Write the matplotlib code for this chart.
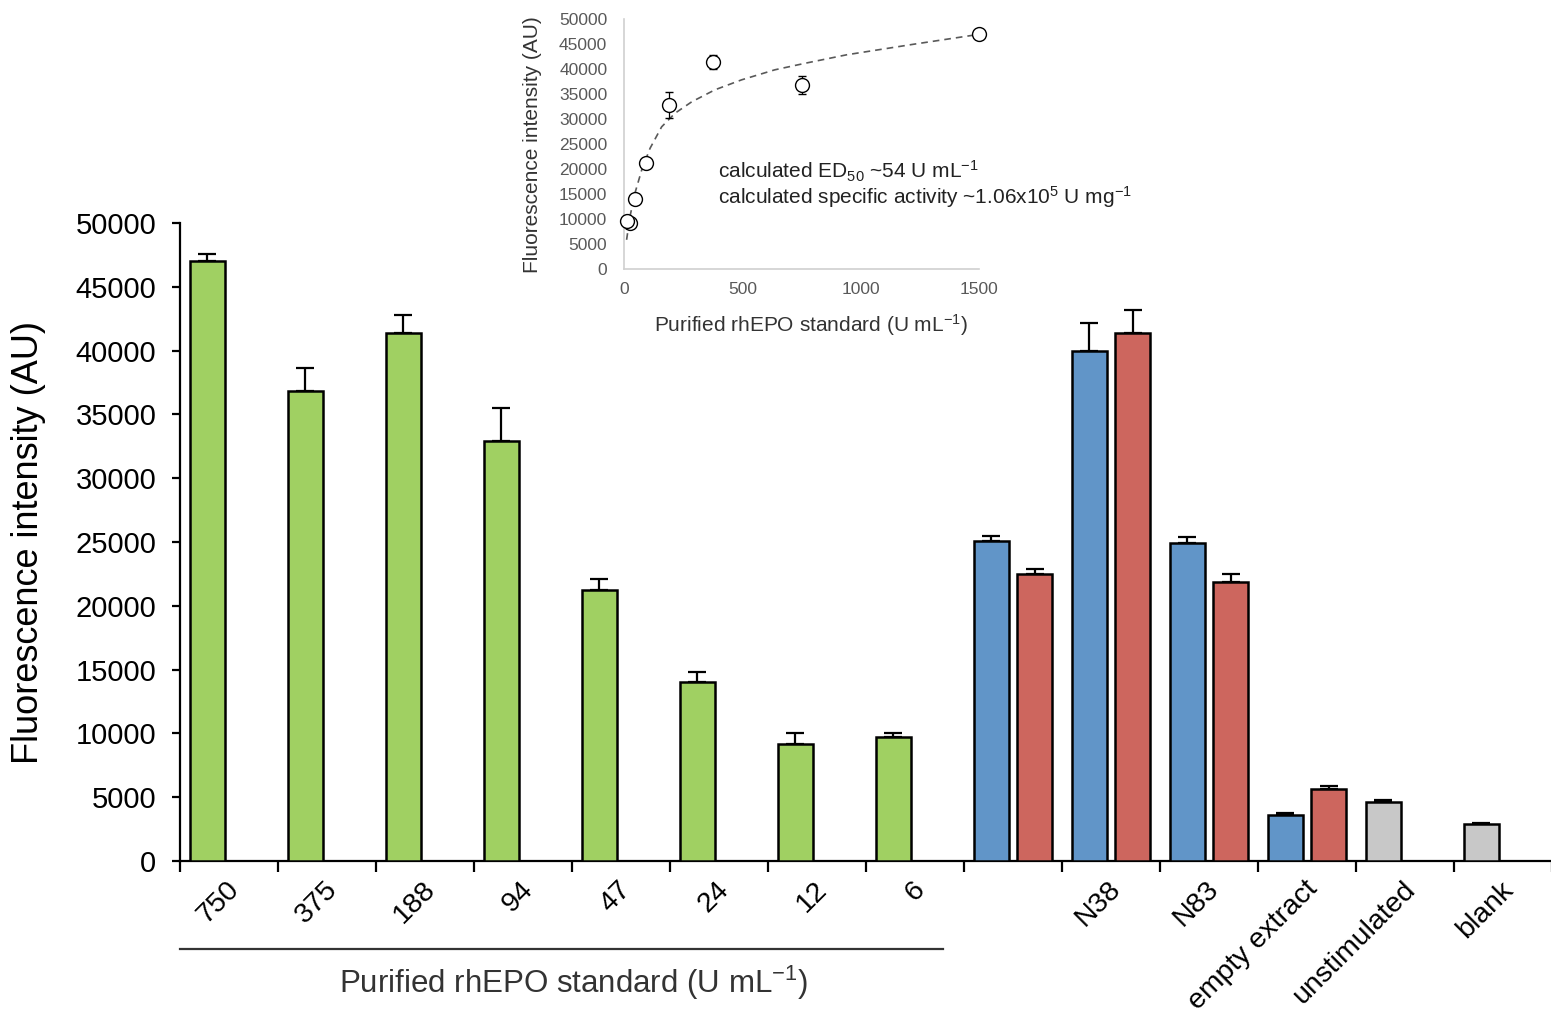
import numpy as np
import matplotlib
matplotlib.use('Agg')
import matplotlib.pyplot as plt
from matplotlib.transforms import ScaledTranslation

plt.rcParams['font.family'] = ['Liberation Sans', 'DejaVu Sans']
plt.rcParams['mathtext.fontset'] = 'custom'
plt.rcParams['mathtext.rm'] = 'Liberation Sans'
plt.rcParams['mathtext.default'] = 'regular'

# 主圖資料 (左側柱 / 右側柱)
categories = ['750', '375', '188', '94', '47', '24', '12', '6', '',
              'N38', 'N83', 'empty extract', 'unstimulated', 'blank']
left_vals = [47000, 36800, 41400, 32900, 21200, 14000, 9200, 9700,
             25100, 40000, 24900, 3600, 4600, 2900]
left_err = [600, 1800, 1400, 2600, 900, 800, 800, 300,
            400, 2200, 500, 200, 200, 100]
left_kind = ['std'] * 8 + ['blue'] * 4 + ['ctrl'] * 2
right_vals = [np.nan] * 8 + [22500, 41400, 21900, 5650] + [np.nan] * 2
right_err = [np.nan] * 8 + [400, 1800, 600, 200] + [np.nan] * 2

# 內嵌圖資料
inset_conc = [1500, 750, 375, 188, 94, 47, 24, 12]
inset_signal = [47000, 36800, 41400, 32900, 21200, 14000, 9200, 9700]
inset_err = [300, 1800, 1400, 2600, 900, 800, 800, 300]
fit_conc = [11, 25, 46, 75, 110, 159, 215, 286, 384, 497, 637, 764, 940, 1221, 1500]
fit_signal = [5900, 10500, 15200, 19900, 24200, 28500, 31200, 33500, 35900,
              37900, 39900, 41200, 42900, 45000, 47000]

colors = {'std': '#A0D062', 'blue': '#6195C8', 'ctrl': '#C8C8C8'}
red = '#CD665E'

fig = plt.figure(figsize=(15.51, 10.19), dpi=100)
ax = fig.add_axes([180 / 1551, 158 / 1019, 1372 / 1551, 638 / 1019])

x = np.arange(len(categories))
w = 0.36
lv = np.array(left_vals, dtype=float)
rv = np.array(right_vals, dtype=float)
le = np.array(left_err, dtype=float)
re_ = np.array(right_err, dtype=float)
m = ~np.isnan(rv)

ax.bar(x - 0.22, lv, w, color=[colors[k] for k in left_kind],
       edgecolor='black', linewidth=1.8, zorder=3)
ax.bar(x[m] + 0.22, rv[m], w, color=red, edgecolor='black', linewidth=1.8, zorder=3)
ax.errorbar(x - 0.22, lv, yerr=[np.zeros_like(le), le], fmt='none',
            ecolor='black', elinewidth=1.6, capsize=6.5, capthick=1.6, zorder=2)
ax.errorbar(x[m] + 0.22, rv[m], yerr=[np.zeros(m.sum()), re_[m]], fmt='none',
            ecolor='black', elinewidth=1.6, capsize=6.5, capthick=1.6, zorder=2)

ax.set_xlim(-0.5, len(categories) - 0.5)
ax.set_ylim(0, 50000)
ax.set_yticks(np.arange(0, 50001, 5000))
for s in ['top', 'right']:
    ax.spines[s].set_visible(False)
for s in ['left', 'bottom']:
    ax.spines[s].set_linewidth(1.6)
ax.tick_params(axis='y', labelsize=21, length=6, width=1.6, pad=11)
ax.set_xticks(x)
ax.set_xticklabels(categories, rotation=45, ha='right', va='top',
                   rotation_mode='anchor', fontsize=20.5)
ax.set_xticks(np.arange(-0.5, len(categories), 1), minor=True)
ax.tick_params(axis='x', which='major', length=0, pad=11)
ax.tick_params(axis='x', which='minor', length=8, width=1.6)
off = ScaledTranslation(-3 / 100, 0, fig.dpi_scale_trans)
for lab in ax.get_xticklabels():
    lab.set_transform(lab.get_transform() + off)
ax.set_ylabel('Fluorescence intensity (AU)', fontsize=26, labelpad=21)

# 底部標準品分組線
fig.add_artist(plt.Line2D([180 / 1551, 943 / 1551], [1 - 949 / 1019] * 2,
                          color='#333333', linewidth=1.6))
fig.text(574 / 1551, 1 - 993 / 1019, 'Purified rhEPO standard (U mL$^{-1}$)',
         ha='center', va='baseline', fontsize=22.5, color='#333333')

# 內嵌圖
ai = fig.add_axes([624 / 1551, 1 - 269.3 / 1019, 355.3 / 1551, 250 / 1019])
ai.plot(fit_conc, fit_signal, linestyle=(0, (4, 3)), color='#595959', linewidth=1.2)
ai.errorbar(inset_conc, inset_signal, yerr=inset_err, fmt='o', markersize=10,
            markerfacecolor='white', markeredgecolor='black', markeredgewidth=1,
            ecolor='black', elinewidth=0.9, capsize=3, capthick=0.9, zorder=3,
            clip_on=False)
ai.set_xlim(0, 1500)
ai.set_ylim(0, 50000)
ai.set_xticks([0, 500, 1000, 1500])
ai.set_yticks(np.arange(0, 50001, 5000))
for s in ['top', 'right']:
    ai.spines[s].set_visible(False)
for s in ['left', 'bottom']:
    ai.spines[s].set_color('#D0D0D0')
    ai.spines[s].set_linewidth(1.2)
ai.patch.set_alpha(0)
ai.tick_params(length=0, labelsize=12.5, labelcolor='#595959')
ai.tick_params(axis='y', pad=12)
ai.tick_params(axis='x', pad=9)
ai.set_ylabel('Fluorescence intensity (AU)', fontsize=15, color='#333333', labelpad=12)
ai.set_xlabel('Purified rhEPO standard (U mL$^{-1}$)', fontsize=15, color='#333333', labelpad=8)
ai.xaxis.set_label_coords(0.525, -0.17)
fig.text(718 / 1551, 1 - 178 / 1019, 'calculated ED$_{50}$ ~54 U mL$^{-1}$',
         fontsize=15, color='#222222', va='baseline')
fig.text(718 / 1551, 1 - 204 / 1019,
         'calculated specific activity ~1.06x10$^{5}$ U mg$^{-1}$',
         fontsize=15, color='#222222', va='baseline')

fig.savefig('out.png', dpi=100)
